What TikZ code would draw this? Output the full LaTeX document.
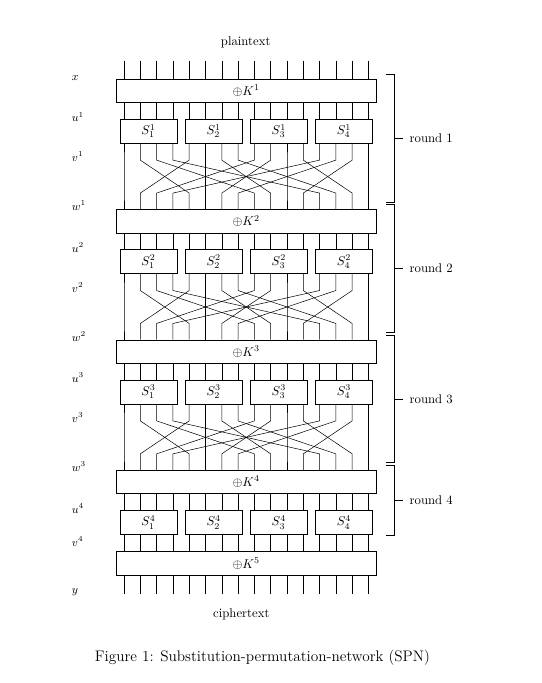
\documentclass[tikz,border=0pt]{standalone}
\begin{document}
\begin{tikzpicture}[
    keybox/.style={draw, minimum width=7.2cm, minimum height=0.65cm, inner sep=0},
    sbox/.style={draw, minimum width=1.57cm, minimum height=0.67cm, inner sep=0},
    varlabel/.style={right, inner sep=0, font=\small}]
    \useasboundingbox (-3.424cm,2.181cm) rectangle (11.541cm,-16.677cm);
    \node (plain) at (3.36cm,1.02cm) {plaintext};
    \node (cipher) at (3.24cm,-14.77cm) {ciphertext};
    % key boxes and S-boxes
    \foreach \r in {1,...,4} {
        \node[keybox] (K\r) at (3.375cm,{-(\r-1)*3.6cm-0.325cm}) {$\oplus K^{\r}$};
        \foreach \k in {1,...,4}
            \node[sbox] (S\r\k) at ({0.675cm+(\k-1)*1.8cm},{-(\r-1)*3.6cm-1.44cm}) {$S^{\r}_{\k}$};
    }
    \node[keybox] (K5) at (3.375cm,-13.375cm) {$\oplus K^{5}$};
    % wires
    \foreach \i in {0,...,15} {
        \pgfmathtruncatemacro{\k}{int(\i/4)+1}
        \pgfmathtruncatemacro{\j}{4*mod(\i,4)+int(\i/4)}
        \draw ({\i*0.45cm},0.5cm) -- ({\i*0.45cm},0 |- K1.north);
        \foreach \r in {1,...,4}
            \draw ({\i*0.45cm},0 |- K\r.south) -- ({\i*0.45cm},0 |- S\r\k.north);
        \foreach \r [evaluate=\r as \n using int(\r+1)] in {1,2,3}
            \draw ({\i*0.45cm},0 |- S\r\k.south) -- ({\i*0.45cm},{-(\r-1)*3.6cm-2.24cm})
                -- ({\j*0.45cm},{-(\r-1)*3.6cm-3.15cm}) -- ({\j*0.45cm},0 |- K\n.north);
        \draw ({\i*0.45cm},0 |- S4\k.south) -- ({\i*0.45cm},0 |- K5.north);
        \draw ({\i*0.45cm},0 |- K5.south) -- ({\i*0.45cm},-14.21cm);
    }
    % state labels
    \node[varlabel] (x) at (-1.444cm,0.04cm) {$x$};
    \foreach \r in {1,2,3} {
        \node[varlabel] (u\r) at (-1.444cm,{-(\r-1)*3.6cm-1.05cm}) {$u^{\r}$};
        \node[varlabel] (v\r) at (-1.444cm,{-(\r-1)*3.6cm-2.15cm}) {$v^{\r}$};
        \node[varlabel] (w\r) at (-1.444cm,{-(\r-1)*3.6cm-3.5cm}) {$w^{\r}$};
    }
    \node[varlabel] (u4) at (-1.444cm,-11.85cm) {$u^{4}$};
    \node[varlabel] (v4) at (-1.444cm,-12.775cm) {$v^{4}$};
    \node[varlabel] (y) at (-1.444cm,-14.155cm) {$y$};
    % rounds
    \foreach \r/\top/\bot in {1/0.13/-3.39, 2/-3.47/-6.99, 3/-7.07/-10.59, 4/-10.67/-12.6} {
        \node[right, inner sep=0] (round\r) at (7.88cm,{(\top+\bot)/2}) {round \r};
        \draw (7.23cm,\top) -- (7.46cm,\top) -- (7.46cm,\bot) -- (7.23cm,\bot);
        \draw (7.46cm,0 |- round\r.west) -- (7.69cm,0 |- round\r.west);
    }
    \node[font=\large] (caption) at (3.82cm,-15.98cm) {Figure 1: Substitution-permutation-network (SPN)};
\end{tikzpicture}
\end{document}
